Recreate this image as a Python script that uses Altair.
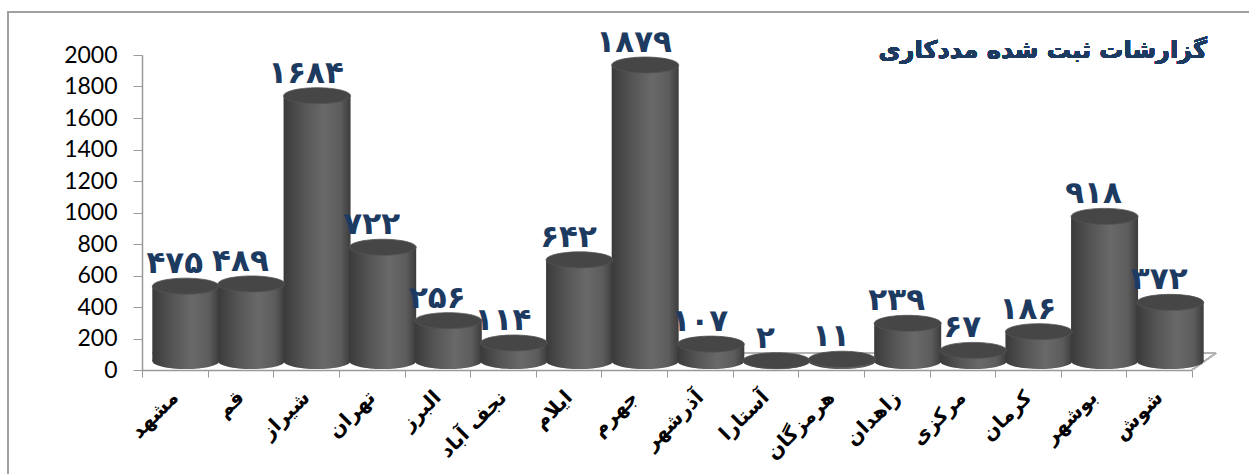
import altair as alt
import pandas as pd

# Registered social-work reports per city
cities = ["مشهد", "قم", "شیراز", "تهران", "البرز", "نجف آباد", "ایلام", "جهرم",
          "آذرشهر", "آستارا", "هرمزگان", "زاهدان", "مرکزی", "کرمان", "بوشهر", "شوش"]
reports = [475, 489, 1684, 722, 256, 114, 642, 1879, 107, 2, 11, 239, 67, 186, 918, 372]
y_ticks = [0, 200, 400, 600, 800, 1000, 1200, 1400, 1600, 1800, 2000]
title_text = "گزارشات ثبت شده مددکاری"

PERSIAN_DIGITS = str.maketrans("0123456789", "۰۱۲۳۴۵۶۷۸۹")

df = pd.DataFrame({
    "city": cities,
    "reports": reports,
    "label": [str(v).translate(PERSIAN_DIGITS) for v in reports],
})

W, H = 1050, 315
PAD = {"left": 142, "top": 55, "right": 57, "bottom": 104}
BAR_W = 67
SHIFT_X = 11
SHIFT_Y = -9
ELLIPSE = "M -1 0 A 1 0.24 0 1 1 1 0 A 1 0.24 0 1 1 -1 0 Z"
BLUE = "#1d3a61"

body = alt.Gradient(
    gradient="linear", x1=0, x2=1, y1=0, y2=0,
    stops=[
        alt.GradientStop(color="#3a3a3a", offset=0),
        alt.GradientStop(color="#555555", offset=0.3),
        alt.GradientStop(color="#696969", offset=0.6),
        alt.GradientStop(color="#5c5c5c", offset=0.85),
        alt.GradientStop(color="#3c3c3c", offset=1),
    ],
)

y_scale = alt.Scale(domain=[0, 2000], nice=False)
y_axis = alt.Axis(
    title=None, values=y_ticks, format="d", labelOverlap=False, grid=False,
    tickSize=9, tickColor="#999999", domainColor="#999999", domainWidth=1.5,
    labelFont="Lato", labelFontSize=23, labelColor="#000000", labelPadding=16,
)

x_enc = alt.X(
    "city:N", sort=cities,
    scale=alt.Scale(paddingInner=0, paddingOuter=0),
    axis=alt.Axis(
        title=None, labelAngle=-45, labelAlign="right", labelBaseline="middle",
        labelFont="DejaVu Sans", labelFontWeight="bold", labelFontSize=20,
        labelColor="#000000", labelPadding=17, tickBand="extent", tickSize=7,
        tickColor="#999999", domainColor="#999999", domainWidth=1.5,
    ),
)
y_enc = alt.Y("reports:Q", scale=y_scale, axis=y_axis)

base = alt.Chart(df).encode(x=x_enc, y=y_enc)

# outer frame of the chart box
frame = alt.Chart(df).mark_rect(fill=None, stroke="#a0a0a0", strokeWidth=1.5, clip=False).encode(
    x=alt.value(8 - PAD["left"]), x2=alt.value(W + PAD["right"] + 10),
    y=alt.value(12 - PAD["top"]), y2=alt.value(H + PAD["bottom"] + 10),
)

# perspective floor under the cylinders
floor_back = alt.Chart(df).mark_rule(color="#b5b5b5", strokeWidth=1.5).encode(
    x=alt.value(10), x2=alt.value(W + 24), y=alt.value(H - 17), y2=alt.value(H - 17),
)
floor_side = alt.Chart(df).mark_rule(color="#b5b5b5", strokeWidth=1.5).encode(
    x=alt.value(W), x2=alt.value(W + 24), y=alt.value(H), y2=alt.value(H - 17),
)

# rounded base of each cylinder
bottoms = alt.Chart(df).mark_point(
    shape=ELLIPSE, size=BAR_W ** 2, filled=True, fill=body, opacity=1,
    strokeWidth=0, xOffset=SHIFT_X, yOffset=SHIFT_Y,
).encode(x=x_enc, y=alt.YDatum(0, scale=y_scale, axis=y_axis))

bars = base.mark_bar(width=BAR_W, fill=body, xOffset=SHIFT_X, yOffset=SHIFT_Y)

# flat elliptical lid of each cylinder
tops = base.mark_point(
    shape=ELLIPSE, size=BAR_W ** 2, filled=True, fill="#464646", opacity=1,
    stroke="#555555", strokeWidth=0.8, xOffset=SHIFT_X, yOffset=SHIFT_Y,
)

labels = base.mark_text(
    font="DejaVu Sans", fontWeight="bold", fontSize=31, color=BLUE,
    baseline="alphabetic", align="center", dy=-22,
).encode(text="label:N")

title = alt.Chart(df).mark_text(
    text=title_text, font="DejaVu Sans", fontWeight="bold", fontSize=24,
    color=BLUE, align="right", baseline="alphabetic",
).encode(x=alt.value(W + 15), y=alt.value(3))

chart = alt.layer(
    frame, floor_back, floor_side, bottoms, bars, tops, labels, title
).properties(
    width=W, height=H, padding=PAD, autosize=alt.AutoSizeParams(type="none"),
    background="#ffffff",
).configure_view(stroke=None)

chart.save("out.html", embed_options={"renderer": "svg", "actions": False})
